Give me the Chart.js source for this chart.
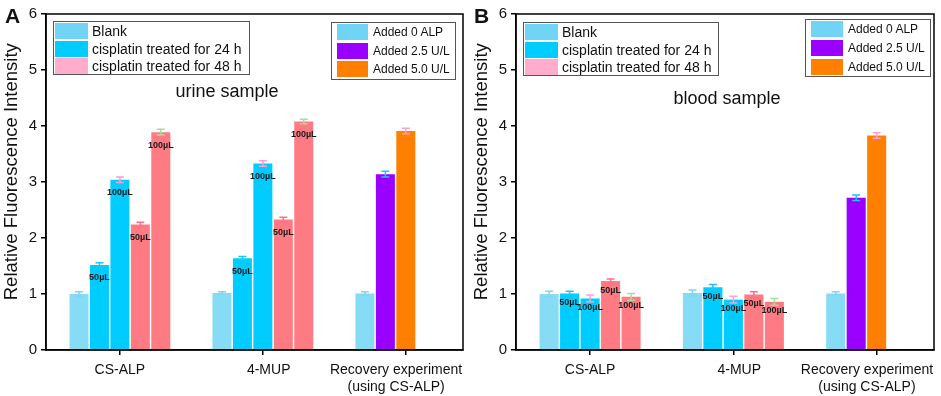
<!DOCTYPE html>
<html>
<head>
<meta charset="utf-8">
<script src="https://cdn.jsdelivr.net/npm/chart.js@4/dist/chart.umd.min.js"></script>
<style>
  html, body { margin: 0; padding: 0; background: #fff; }
  body { width: 941px; height: 396px; position: relative; overflow: hidden; font-family: Arial, "Liberation Sans", sans-serif; color: #111; }
  .panel { position: absolute; top: 0; height: 396px; }
  .panel canvas { position: absolute; left: 0; top: 0; }
  .letter { position: absolute; font-weight: bold; font-size: 21px; line-height: 1; }
  .title { position: absolute; font-size: 18px; line-height: 1; transform: translateX(-50%); white-space: nowrap; }
  .legend { position: absolute; border: 1px solid #555; background: #fff; box-sizing: border-box; }
  .legend .row { position: absolute; display: flex; align-items: center; white-space: nowrap; }
  .legend .sw { flex: none; }
</style>
</head>
<body>
<div class="panel" id="panel-a" style="left:0;width:470px;">
  <canvas id="chart-a" width="470" height="396"></canvas>
</div>
<div class="panel" id="panel-b" style="left:470px;width:471px;">
  <canvas id="chart-b" width="471" height="396"></canvas>
</div>

<script>
const groupLabels = ["CS-ALP", "4-MUP", ["Recovery experiment", "(using CS-ALP)"]];
const yTickValues = [0, 1, 2, 3, 4, 5, 6];
const yTitle = "Relative Fluorescence Intensity";

// urine sample (A)
const urineBlank = [1.00, 1.02, 1.01];
const urine24h50 = [1.52, 1.64, null];
const urine24h100 = [3.04, 3.33, null];
const urine48h50 = [2.24, 2.33, null];
const urine48h100 = [3.89, 4.08, null];
const urineAdded25 = [null, null, 3.14];
const urineAdded50 = [null, null, 3.91];

const urineBlankErr = [0.04, 0.02, 0.03];
const urine24h50Err = [0.04, 0.03, null];
const urine24h100Err = [0.05, 0.05, null];
const urine48h50Err = [0.04, 0.04, null];
const urine48h100Err = [0.05, 0.04, null];
const urineAdded25Err = [null, null, 0.05];
const urineAdded50Err = [null, null, 0.05];

// blood sample (B)
const bloodBlank = [1.00, 1.02, 1.01];
const blood24h50 = [1.01, 1.12, null];
const blood24h100 = [0.92, 0.90, null];
const blood48h50 = [1.23, 0.99, null];
const blood48h100 = [0.95, 0.86, null];
const bloodAdded25 = [null, null, 2.72];
const bloodAdded50 = [null, null, 3.83];

const bloodBlankErr = [0.05, 0.05, 0.03];
const blood24h50Err = [0.04, 0.05, null];
const blood24h100Err = [0.06, 0.06, null];
const blood48h50Err = [0.04, 0.05, null];
const blood48h100Err = [0.06, 0.06, null];
const bloodAdded25Err = [null, null, 0.05];
const bloodAdded50Err = [null, null, 0.05];

const volume50 = ["50µL", "50µL", null];
const volume100 = ["100µL", "100µL", null];

const cisplatinLegend = ["Blank", "cisplatin treated for 24 h", "cisplatin treated for 48 h"];
const recoveryLegend = ["Added 0 ALP", "Added 2.5 U/L", "Added 5.0 U/L"];

// the original labels sit a little off their ticks: [leading, trailing] spaces
const labelNudge = [[0, 0], [3, 0], [0, 5]];

const colors = {
  blank: "#86dcf5",
  cyan: "#00ccff",
  salmon: "#ff7b83",
  purple: "#9900ff",
  orange: "#ff8000",
  errBlue: "#7fd6f2",
  errCyan: "#19c8f5",
  errPink: "#ff9fcf",
  errSalmon: "#ff6f8a",
  errGreen: "#a9dba0",
  legendBlank: "#72d4f5",
  legendPink: "#ffaccd"
};

function buildSeries(v, e) {
  return [
    { label: "Blank", values: v[0], errors: e[0], color: colors.blank, errColor: colors.errBlue, stack: "s0", volumes: [] },
    { label: "24 h 50µL", values: v[1], errors: e[1], color: colors.cyan, errColor: colors.errCyan, stack: "s1", volumes: volume50 },
    { label: "24 h 100µL", values: v[2], errors: e[2], color: colors.cyan, errColor: colors.errPink, stack: "s2", volumes: volume100 },
    { label: "48 h 50µL", values: v[3], errors: e[3], color: colors.salmon, errColor: colors.errSalmon, stack: "s3", volumes: volume50 },
    { label: "48 h 100µL", values: v[4], errors: e[4], color: colors.salmon, errColor: colors.errGreen, stack: "s4", volumes: volume100 },
    { label: "Added 2.5 U/L", values: v[5], errors: e[5], color: colors.purple, errColor: colors.errCyan, stack: "s1", volumes: [] },
    { label: "Added 5.0 U/L", values: v[6], errors: e[6], color: colors.orange, errColor: colors.errPink, stack: "s2", volumes: [] }
  ];
}

const errorBars = {
  id: "errorBars",
  afterDatasetsDraw(chart) {
    const { ctx } = chart;
    const y = chart.scales.y;
    chart.data.datasets.forEach((ds, di) => {
      const meta = chart.getDatasetMeta(di);
      meta.data.forEach((bar, i) => {
        const v = ds.data[i].y;
        const e = ds.errors[i];
        if (v == null || e == null) return;
        const top = y.getPixelForValue(v + e);
        const bottom = y.getPixelForValue(v - e);
        ctx.save();
        ctx.strokeStyle = ds.errColor;
        ctx.lineWidth = 1.5;
        ctx.beginPath();
        ctx.moveTo(bar.x, top); ctx.lineTo(bar.x, bottom);
        ctx.moveTo(bar.x - 4, top); ctx.lineTo(bar.x + 4, top);
        ctx.moveTo(bar.x - 4, bottom); ctx.lineTo(bar.x + 4, bottom);
        ctx.stroke();
        ctx.restore();
      });
    });
  }
};

const barLabels = {
  id: "barLabels",
  afterDatasetsDraw(chart, args, opts) {
    const { ctx } = chart;
    chart.data.datasets.forEach((ds, di) => {
      const meta = chart.getDatasetMeta(di);
      meta.data.forEach((bar, i) => {
        const text = ds.volumes[i];
        if (!text || ds.data[i].y == null) return;
        ctx.save();
        ctx.font = "bold 9px Arial, 'Liberation Sans', sans-serif";
        ctx.fillStyle = "#1a1a1a";
        ctx.textAlign = "center";
        ctx.textBaseline = "middle";
        ctx.fillText(text, bar.x, bar.y + opts.offset);
        ctx.restore();
      });
    });
  }
};

const frame = {
  id: "frame",
  afterDraw(chart) {
    const { ctx, chartArea: a } = chart;
    ctx.save();
    ctx.strokeStyle = "#000";
    ctx.lineWidth = 1.5;
    ctx.strokeRect(a.left, a.top, a.right - a.left, a.bottom - a.top);
    ctx.restore();
  }
};

function nudged(label, index) {
  const [lead, trail] = labelNudge[index];
  const pad = s => "\u00a0".repeat(lead) + s + "\u00a0".repeat(trail);
  return Array.isArray(label) ? label.map(pad) : pad(label);
}

function makeChart(canvasId, series, labelOffset) {
  return new Chart(document.getElementById(canvasId), {
    type: "bar",
    data: {
      datasets: series.map(s => ({
        label: s.label,
        data: s.values.map((v, i) => ({ x: i + 1, y: v })),
        errors: s.errors,
        errColor: s.errColor,
        volumes: s.volumes,
        stack: s.stack,
        backgroundColor: s.color,
        borderWidth: 0,
        categoryPercentage: 0.715,
        barPercentage: 0.93
      }))
    },
    options: {
      responsive: false,
      animation: false,
      devicePixelRatio: 1,
      layout: { padding: { top: 14, right: 7, left: 0, bottom: 0 } },
      plugins: {
        legend: { display: false },
        tooltip: { enabled: false },
        barLabels: { offset: labelOffset }
      },
      scales: {
        x: {
          type: "linear",
          offset: false,
          min: 0.483,
          max: 3.40,
          afterBuildTicks: scale => { scale.ticks = groupLabels.map((_, i) => ({ value: i + 1 })); },
          afterFit: scale => { scale.height = 46; scale.paddingLeft = 0; scale.paddingRight = 0; },
          grid: { display: true, offset: false, drawOnChartArea: false, drawTicks: true, tickLength: 5, color: "#000", lineWidth: 1.5 },
          border: { color: "#000", width: 1.5 },
          ticks: {
            autoSkip: false,
            maxRotation: 0,
            padding: 6,
            color: "#111",
            font: { family: "Arial, 'Liberation Sans', sans-serif", size: 14, lineHeight: 1.25 },
            callback: (value, index) => nudged(groupLabels[index], index)
          }
        },
        y: {
          stacked: false,
          min: 0,
          max: 6,
          afterBuildTicks: scale => { scale.ticks = yTickValues.map(v => ({ value: v })); },
          afterFit: scale => { scale.width = 46; },
          grid: { display: true, drawOnChartArea: false, drawTicks: true, tickLength: 5, color: "#000", lineWidth: 1.5 },
          border: { color: "#000", width: 1.5 },
          ticks: {
            padding: 4,
            color: "#111",
            font: { family: "Arial, 'Liberation Sans', sans-serif", size: 15 }
          },
          title: {
            display: true,
            // leading spaces lift the title a little above the axis centre, as in the original
            text: "\u00a0".repeat(4) + yTitle,
            color: "#111",
            padding: { top: 1, bottom: 0 },
            font: { family: "Arial, 'Liberation Sans', sans-serif", size: 18.5, lineHeight: 1.2 }
          }
        }
      }
    },
    plugins: [errorBars, barLabels, frame]
  });
}

makeChart("chart-a", buildSeries(
  [urineBlank, urine24h50, urine24h100, urine48h50, urine48h100, urineAdded25, urineAdded50],
  [urineBlankErr, urine24h50Err, urine24h100Err, urine48h50Err, urine48h100Err, urineAdded25Err, urineAdded50Err]
), 13);

makeChart("chart-b", buildSeries(
  [bloodBlank, blood24h50, blood24h100, blood48h50, blood48h100, bloodAdded25, bloodAdded50],
  [bloodBlankErr, blood24h50Err, blood24h100Err, blood48h50Err, blood48h100Err, bloodAdded25Err, bloodAdded50Err]
), 9);

// overlays: panel letters, sample titles and the two legend boxes per panel
function addText(panel, cls, text, left, top) {
  const el = document.createElement("div");
  el.className = cls;
  el.textContent = text;
  el.style.left = left + "px";
  el.style.top = top + "px";
  document.getElementById(panel).appendChild(el);
}

function addLegend(panel, items, swatchColors, box, rows, sw, fontSize, textGap) {
  const el = document.createElement("div");
  el.className = "legend";
  Object.assign(el.style, { left: box.x + "px", top: box.y + "px", width: box.w + "px", height: box.h + "px" });
  items.forEach((txt, i) => {
    const row = document.createElement("div");
    row.className = "row";
    row.style.left = sw.x + "px";
    row.style.top = rows[i] + "px";
    row.style.height = sw.h + "px";
    row.style.fontSize = fontSize + "px";
    row.innerHTML = `<div class="sw" style="width:${sw.w}px;height:${sw.h}px;background:${swatchColors[i]};margin-right:${textGap}px"></div><span>${txt}</span>`;
    el.appendChild(row);
  });
  document.getElementById(panel).appendChild(el);
}

const cisplatinSwatches = [colors.legendBlank, colors.cyan, colors.legendPink];
const recoverySwatches = [colors.legendBlank, colors.purple, colors.orange];

addText("panel-a", "letter", "A", 5, 5);
addText("panel-a", "title", "urine sample", 227, 82);
addLegend("panel-a", cisplatinLegend, cisplatinSwatches, { x: 53, y: 21, w: 197, h: 54 }, [1, 18.5, 36], { x: 1, w: 33, h: 16 }, 14, 4);
addLegend("panel-a", recoveryLegend, recoverySwatches, { x: 331, y: 22, w: 125, h: 58 }, [1, 20, 38], { x: 5, w: 31, h: 16 }, 12, 5);

addText("panel-b", "letter", "B", 4, 5);
addText("panel-b", "title", "blood sample", 257, 89);
addLegend("panel-b", cisplatinLegend, cisplatinSwatches, { x: 53, y: 22, w: 196, h: 54 }, [1, 19, 36], { x: 1, w: 33, h: 16 }, 14, 4);
addLegend("panel-b", recoveryLegend, recoverySwatches, { x: 335, y: 19, w: 126, h: 58 }, [1, 20, 39], { x: 5, w: 32, h: 16 }, 12, 5);
</script>
</body>
</html>
